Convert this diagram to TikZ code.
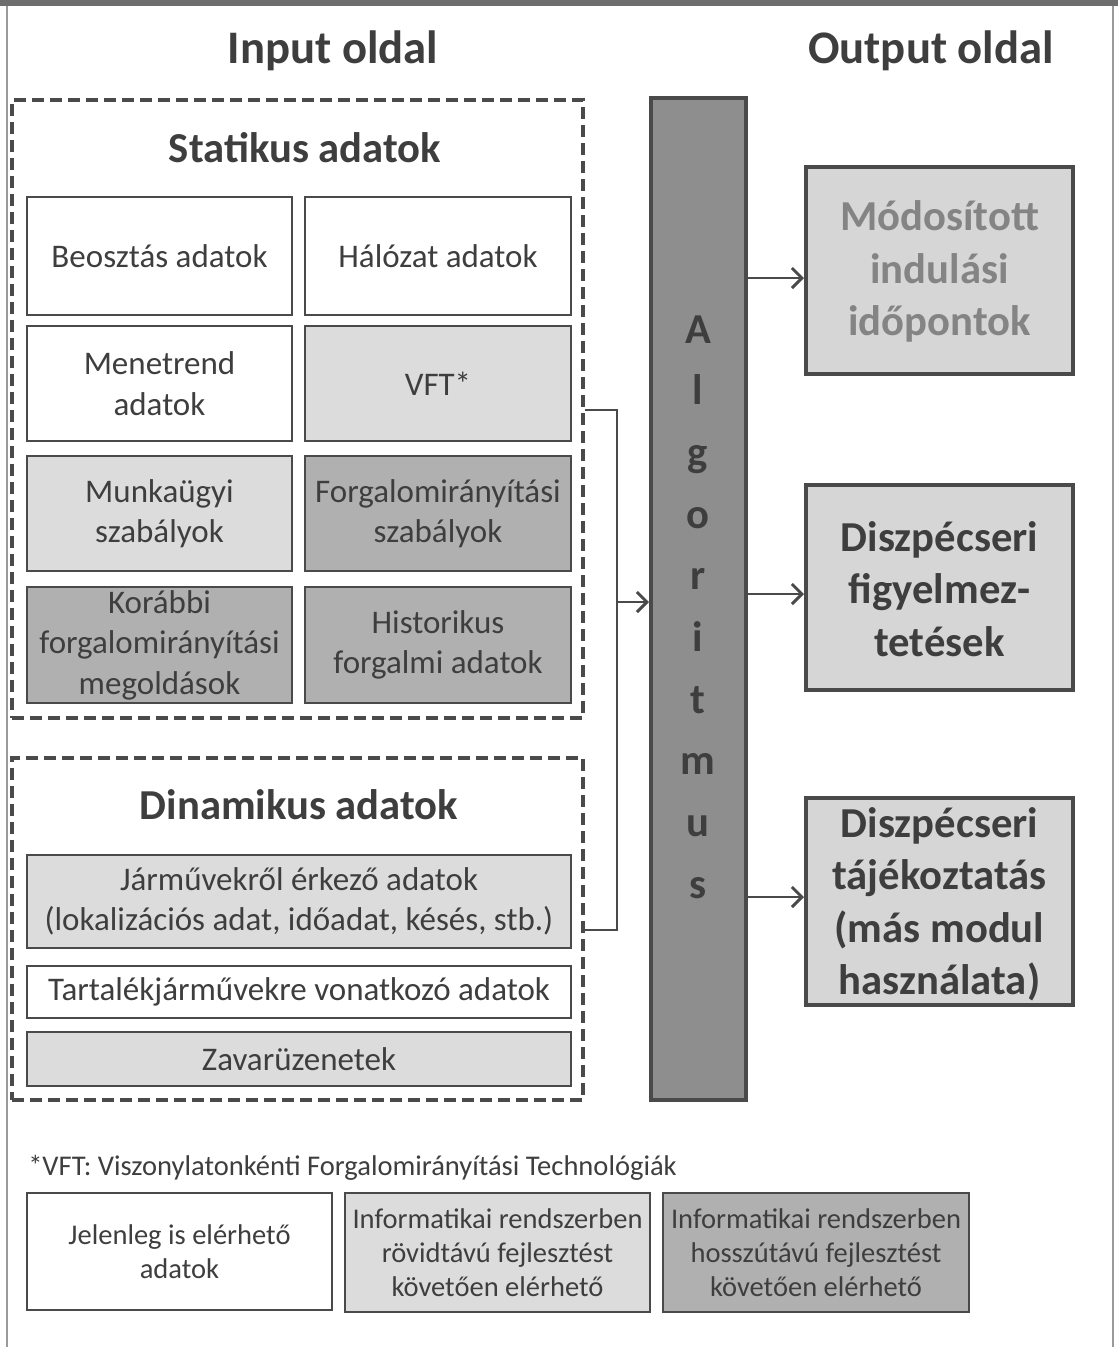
\documentclass[tikz,border=0pt]{standalone}
\usepackage{fontspec}
\setmainfont{Carlito}
\usetikzlibrary{fit,arrows.meta}

\definecolor{frameline}{HTML}{9A9A9A}
\definecolor{frameband}{HTML}{6E6E6E}
\definecolor{inkline}{HTML}{4A4A4A}
\definecolor{inktext}{HTML}{3E3E3E}
\definecolor{fillnow}{HTML}{FFFFFF}
\definecolor{fillshort}{HTML}{DCDCDC}
\definecolor{filllong}{HTML}{B0B0B0}
\definecolor{fillalg}{HTML}{8E8E8E}
\definecolor{fillout}{HTML}{D6D6D6}
\definecolor{softtext}{HTML}{848484}

\newcommand\boxfont{\fontsize{24.75}{30.4}\selectfont}
\newcommand\headfont{\fontsize{32}{39.4}\selectfont\bfseries}
\newcommand\topfont{\fontsize{35}{40}\selectfont\bfseries}
\newcommand\legfont{\fontsize{21.4}{25.5}\selectfont}

\tikzset{
  frame/.style={draw=inkline, line width=1.9pt, inner sep=0pt},
  nowbox/.style={frame, fill=fillnow},
  shortbox/.style={frame, fill=fillshort},
  longbox/.style={frame, fill=filllong},
  boxtext/.style={align=center, text=inktext, font=\boxfont, inner sep=0pt},
  legtext/.style={align=center, text=inktext, font=\legfont, inner sep=0pt},
  groupbox/.style={draw=inkline, line width=2.6pt, dash pattern=on 9pt off 4.5pt, inner sep=0pt},
  outbox/.style={draw=inkline, line width=3pt, fill=fillout, inner sep=0pt},
  outtext/.style={align=center, text=inktext, font=\headfont, inner sep=0pt},
  conn/.style={draw=inkline, line width=2.2pt},
  arr/.style={conn, -{Straight Barb[length=7.5pt,width=15pt,line width=2.2pt]}},
  heading/.style={text=inktext, font=\topfont, anchor=base},
  grouptitle/.style={text=inktext, font=\headfont, anchor=base},
}

\begin{document}
\begin{tikzpicture}[x=0.75pt,y=-0.75pt]
\useasboundingbox (0,0) rectangle (1118,1347);

% page frame
\fill[frameband] (0,0) rectangle (1118,6);
\draw[frameline, line width=1.5pt] (7,6) -- (7,1347);
\draw[frameline, line width=1.5pt] (1113,6) -- (1113,1347);

% headings
\node[heading] (hin) at (333,63) {Input oldal};
\node[heading] (hout) at (931,63) {Output oldal};

% static data group
\node[groupbox, fit={(12,100) (583,718)}] (stat) {};
\node[grouptitle] (stattitle) at (305,162) {Statikus adatok};
\node[nowbox, fit={(27,197) (292,315)}] (beo) {};
\node[nowbox, fit={(305,197) (571,315)}] (hal) {};
\node[nowbox, fit={(27,326) (292,441)}] (men) {};
\node[shortbox, fit={(305,326) (571,441)}] (vft) {};
\node[shortbox, fit={(27,456) (292,571)}] (mun) {};
\node[longbox, fit={(305,456) (571,571)}] (fsz) {};
\node[longbox, fit={(27,587) (292,703)}] (kor) {};
\node[longbox, fit={(305,587) (571,703)}] (his) {};
\node[boxtext] (beo-t) at (beo) {Beosztás adatok};
\node[boxtext] (hal-t) at (hal) {Hálózat adatok};
\node[boxtext] (men-t) at (men) {Menetrend\\adatok};
\node[boxtext] (vft-t) at (vft) {VFT*};
\node[boxtext] (mun-t) at (mun) {Munkaügyi\\szabályok};
\node[boxtext] (fsz-t) at (fsz) {Forgalomirányítási\\szabályok};
\node[boxtext] (kor-t) at (kor) {Korábbi\\forgalomirányítási\\megoldások};
\node[boxtext] (his-t) at (his) {Historikus\\forgalmi adatok};

% dynamic data group
\node[groupbox, fit={(12,758) (583,1100)}] (dyn) {};
\node[grouptitle] (dyntitle) at (299,819) {Dinamikus adatok};
\node[shortbox, fit={(27,855) (571,948)}] (jar) {};
\node[nowbox, fit={(27,966) (571,1018)}] (tar) {};
\node[shortbox, fit={(27,1032) (571,1086)}] (zav) {};
\node[boxtext] (jar-t) at (jar) {Járművekről érkező adatok\\(lokalizációs adat, időadat, késés, stb.)};
\node[boxtext] (tar-t) at (tar) {Tartalékjárművekre vonatkozó adatok};
\node[boxtext] (zav-t) at (zav) {Zavarüzenetek};

% algorithm column
\node[draw=inkline, line width=3pt, fill=fillalg, inner sep=0pt, fit={(651,98) (746,1100)}] (alg) {};
\foreach \c [count=\i] in {A,l,g,o,r,i,t,m,u,s}
  \node[text=inktext, font=\headfont, anchor=base] (alg\i) at (698,{343+61.7*(\i-1)}) {\c};

% outputs
\node[outbox, fit={(806,167) (1073,374)}] (out1) {};
\node[outbox, fit={(806,485) (1073,690)}] (out2) {};
\node[outbox, fit={(806,798) (1073,1005)}] (out3) {};
\node[outtext, text=softtext] (out1-t) at ([yshift=-1pt]out1) {Módosított\\indulási\\időpontok};
\node[outtext] (out2-t) at ([yshift=-1pt]out2) {Diszpécseri\\figyelmez-\\tetések};
\node[outtext] (out3-t) at ([yshift=-2pt]out3) {Diszpécseri\\tájékoztatás\\(más modul\\használata)};

% input bracket into the algorithm
\coordinate (jt) at (617,410);
\coordinate (jb) at (617,930);
\coordinate (jm) at (617,602);
\draw[conn] (stat.east |- jt) -- (jt) -- (jb) -- (dyn.east |- jb);
\draw[arr] (jm) -- (alg.west |- jm);

% algorithm to outputs
\draw[arr] (alg.east |- 0,278) -- (out1.west |- 0,278);
\draw[arr] (alg.east |- 0,594) -- (out2.west |- 0,594);
\draw[arr] (alg.east |- 0,897) -- (out3.west |- 0,897);

% footnote and legend
\node[anchor=west, text=inktext, font=\legfont, inner sep=0pt] (note) at (28,1168)
  {*VFT: Viszonylatonkénti Forgalomirányítási Technológiák};
\node[nowbox, fit={(27,1193) (332,1310)}] (leg1) {};
\node[shortbox, fit={(345,1193) (650,1312)}] (leg2) {};
\node[longbox, fit={(663,1193) (969,1312)}] (leg3) {};
\node[legtext] (leg1-t) at (leg1) {Jelenleg is elérhető\\adatok};
\node[legtext] (leg2-t) at (leg2) {Informatikai rendszerben\\rövidtávú fejlesztést\\követően elérhető};
\node[legtext] (leg3-t) at (leg3) {Informatikai rendszerben\\hosszútávú fejlesztést\\követően elérhető};
\end{tikzpicture}
\end{document}
